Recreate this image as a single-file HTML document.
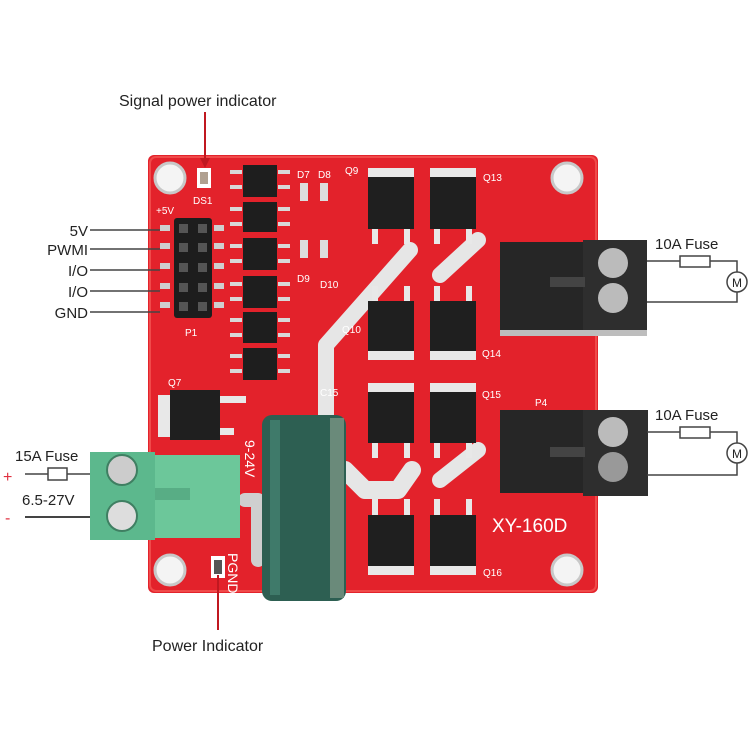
<!DOCTYPE html>
<html><head><meta charset="utf-8"><style>
html,body{margin:0;padding:0;background:#fff;width:750px;height:750px;overflow:hidden}
svg{display:block}
text{font-family:"Liberation Sans",sans-serif}
</style></head><body>
<svg width="750" height="750" viewBox="0 0 750 750" xmlns="http://www.w3.org/2000/svg">
<rect width="750" height="750" fill="#fff"/>
<rect x="148" y="155" width="450" height="438" rx="6" fill="#e3222b"/>
<rect x="150" y="157" width="446" height="434" rx="6" fill="none" stroke="#f04a4a" stroke-width="2"/>
<g fill="#f4f4f4" stroke="#c8c8c8" stroke-width="3">
<circle cx="170" cy="178" r="15"/><circle cx="567" cy="178" r="15"/>
<circle cx="170" cy="570" r="15"/><circle cx="567" cy="570" r="15"/>
</g>
<g fill="none" stroke="#e6e6e6" stroke-linecap="round" stroke-linejoin="round">
<polyline points="326,588 326,345 410,250" stroke-width="16"/>
<polyline points="440,275 478,240" stroke-width="16"/>
<polyline points="345,470 365,490 398,490 412,470" stroke-width="18"/>
<polyline points="440,480 478,450" stroke-width="16"/>
<polyline points="245,500 258,500 258,560" stroke-width="14" stroke="#cfcfcf"/>
</g>
<rect x="174" y="218" width="38" height="100" rx="3" fill="#1d1d1d"/>
<g fill="#cfcfcf">
<rect x="160" y="225" width="10" height="6"/><rect x="160" y="243" width="10" height="6"/><rect x="160" y="263" width="10" height="6"/><rect x="160" y="283" width="10" height="6"/><rect x="160" y="302" width="10" height="6"/>
<rect x="214" y="225" width="10" height="6"/><rect x="214" y="243" width="10" height="6"/><rect x="214" y="263" width="10" height="6"/><rect x="214" y="283" width="10" height="6"/><rect x="214" y="302" width="10" height="6"/>
</g>
<g fill="#555">
<rect x="179" y="224" width="9" height="9"/><rect x="198" y="224" width="9" height="9"/>
<rect x="179" y="243" width="9" height="9"/><rect x="198" y="243" width="9" height="9"/>
<rect x="179" y="263" width="9" height="9"/><rect x="198" y="263" width="9" height="9"/>
<rect x="179" y="283" width="9" height="9"/><rect x="198" y="283" width="9" height="9"/>
<rect x="179" y="302" width="9" height="9"/><rect x="198" y="302" width="9" height="9"/>
</g>
<text x="156" y="214" font-size="10" fill="#fff">+5V</text>
<text x="185" y="336" font-size="10" fill="#fff">P1</text>
<rect x="197" y="168" width="14" height="20" fill="#fff"/><rect x="200" y="172" width="8" height="12" fill="#b0a090"/>
<text x="193" y="204" font-size="10" fill="#fff">DS1</text>
<g fill="#1e1e1e">
<rect x="243" y="165" width="34" height="32"/><rect x="243" y="202" width="34" height="30"/><rect x="243" y="238" width="34" height="32"/><rect x="243" y="276" width="34" height="32"/><rect x="243" y="312" width="34" height="31"/><rect x="243" y="348" width="34" height="32"/>
</g>
<g fill="#d8d8d8">
<rect x="230" y="170" width="12" height="4"/><rect x="230" y="185" width="12" height="4"/><rect x="278" y="170" width="12" height="4"/><rect x="278" y="185" width="12" height="4"/>
<rect x="230" y="207" width="12" height="4"/><rect x="230" y="222" width="12" height="4"/><rect x="278" y="207" width="12" height="4"/><rect x="278" y="222" width="12" height="4"/>
<rect x="230" y="244" width="12" height="4"/><rect x="230" y="259" width="12" height="4"/><rect x="278" y="244" width="12" height="4"/><rect x="278" y="259" width="12" height="4"/>
<rect x="230" y="282" width="12" height="4"/><rect x="230" y="297" width="12" height="4"/><rect x="278" y="282" width="12" height="4"/><rect x="278" y="297" width="12" height="4"/>
<rect x="230" y="318" width="12" height="4"/><rect x="230" y="333" width="12" height="4"/><rect x="278" y="318" width="12" height="4"/><rect x="278" y="333" width="12" height="4"/>
<rect x="230" y="354" width="12" height="4"/><rect x="230" y="369" width="12" height="4"/><rect x="278" y="354" width="12" height="4"/><rect x="278" y="369" width="12" height="4"/>
</g>
<g fill="#ddd"><rect x="300" y="183" width="8" height="18"/><rect x="320" y="183" width="8" height="18"/><rect x="300" y="240" width="8" height="18"/><rect x="320" y="240" width="8" height="18"/></g>
<g font-size="10" fill="#fff"><text x="297" y="178">D7</text><text x="318" y="178">D8</text><text x="297" y="282">D9</text><text x="320" y="288">D10</text><text x="345" y="174">Q9</text><text x="483" y="181">Q13</text><text x="342" y="333">Q10</text><text x="482" y="357">Q14</text><text x="482" y="398">Q15</text><text x="483" y="576">Q16</text><text x="320" y="396">C15</text><text x="168" y="386">Q7</text><text x="535" y="406">P4</text></g>
<g fill="#e8e8e8">
<rect x="368" y="168" width="46" height="10"/><rect x="430" y="168" width="46" height="10"/>
<rect x="368" y="350" width="46" height="10"/><rect x="430" y="350" width="46" height="10"/>
<rect x="368" y="383" width="46" height="10"/><rect x="430" y="383" width="46" height="10"/>
<rect x="368" y="565" width="46" height="10"/><rect x="430" y="565" width="46" height="10"/>
<rect x="372" y="228" width="6" height="16"/><rect x="404" y="228" width="6" height="16"/><rect x="434" y="228" width="6" height="16"/><rect x="466" y="228" width="6" height="16"/>
<rect x="372" y="286" width="6" height="16"/><rect x="404" y="286" width="6" height="16"/><rect x="434" y="286" width="6" height="16"/><rect x="466" y="286" width="6" height="16"/>
<rect x="372" y="442" width="6" height="16"/><rect x="404" y="442" width="6" height="16"/><rect x="434" y="442" width="6" height="16"/><rect x="466" y="442" width="6" height="16"/>
<rect x="372" y="499" width="6" height="16"/><rect x="404" y="499" width="6" height="16"/><rect x="434" y="499" width="6" height="16"/><rect x="466" y="499" width="6" height="16"/>
</g>
<g fill="#1f1f1f">
<rect x="368" y="177" width="46" height="52"/><rect x="430" y="177" width="46" height="52"/>
<rect x="368" y="301" width="46" height="50"/><rect x="430" y="301" width="46" height="50"/>
<rect x="368" y="392" width="46" height="51"/><rect x="430" y="392" width="46" height="51"/>
<rect x="368" y="515" width="46" height="51"/><rect x="430" y="515" width="46" height="51"/>
</g>
<rect x="158" y="395" width="12" height="42" fill="#e8e8e8"/>
<rect x="170" y="390" width="50" height="50" fill="#1f1f1f"/>
<rect x="220" y="396" width="26" height="7" fill="#e8e8e8"/><rect x="220" y="428" width="14" height="7" fill="#e8e8e8"/>
<rect x="262" y="415" width="84" height="186" rx="10" fill="#2d5f52"/>
<rect x="270" y="420" width="10" height="175" fill="#3f7a6a"/>
<rect x="330" y="418" width="14" height="180" fill="#6a8a7a"/>
<text x="245" y="440" font-size="14" fill="#fff" transform="rotate(90 245 440)">9-24V</text>
<text x="228" y="553" font-size="14" fill="#fff" transform="rotate(90 228 553)">PGND</text>
<rect x="211" y="556" width="14" height="22" fill="#fff"/><rect x="214" y="560" width="8" height="14" fill="#555"/>
<text x="492" y="532" font-size="19" fill="#fff">XY-160D</text>
<rect x="90" y="452" width="65" height="88" fill="#5cb88d"/>
<rect x="155" y="455" width="85" height="83" fill="#6cc79a"/>
<rect x="155" y="488" width="35" height="12" fill="#58ad85"/>
<circle cx="122" cy="470" r="15" fill="#ccc" stroke="#3f7f62" stroke-width="2"/>
<circle cx="122" cy="516" r="15" fill="#ddd" stroke="#3f7f62" stroke-width="2"/>
<rect x="500" y="242" width="85" height="90" fill="#262626"/>
<rect x="583" y="240" width="64" height="90" fill="#2e2e2e"/>
<rect x="500" y="330" width="147" height="6" fill="#bdbdbd"/>
<rect x="550" y="277" width="35" height="10" fill="#444"/>
<circle cx="613" cy="263" r="15" fill="#bbb"/><circle cx="613" cy="298" r="15" fill="#bbb"/>
<rect x="500" y="410" width="85" height="83" fill="#262626"/>
<rect x="583" y="410" width="65" height="86" fill="#2e2e2e"/>
<rect x="550" y="447" width="35" height="10" fill="#444"/>
<circle cx="613" cy="432" r="15" fill="#bbb"/><circle cx="613" cy="467" r="15" fill="#999"/>
<g fill="none" stroke="#444" stroke-width="1.5">
<polyline points="647,261 680,261"/><rect x="680" y="256" width="30" height="11" fill="#fff"/><polyline points="710,261 737,261 737,272"/><circle cx="737" cy="282" r="10" fill="#fff"/><polyline points="737,292 737,302 647,302"/>
<polyline points="647,432 680,432"/><rect x="680" y="427" width="30" height="11" fill="#fff"/><polyline points="710,432 737,432 737,443"/><circle cx="737" cy="453" r="10" fill="#fff"/><polyline points="737,463 737,475 647,475"/>
<polyline points="25,474 48,474"/><rect x="48" y="468" width="19" height="12" fill="#fff"/><polyline points="67,474 90,474"/>
<polyline points="25,517 90,517" stroke-width="2"/>
<polyline points="90,230 160,230"/><polyline points="90,249 160,249"/><polyline points="90,270 160,270"/><polyline points="90,291 160,291"/><polyline points="90,312 160,312"/>
</g>
<g font-size="15" fill="#222">
<text x="655" y="249">10A Fuse</text><text x="655" y="420">10A Fuse</text>
<text x="737" y="287" font-size="12" text-anchor="middle">M</text><text x="737" y="458" font-size="12" text-anchor="middle">M</text>
<text x="15" y="461">15A Fuse</text><text x="22" y="505">6.5-27V</text>
<text x="88" y="236" text-anchor="end">5V</text><text x="88" y="255" text-anchor="end">PWMI</text><text x="88" y="276" text-anchor="end">I/O</text><text x="88" y="297" text-anchor="end">I/O</text><text x="88" y="318" text-anchor="end">GND</text>
<text x="119" y="106" font-size="16">Signal power indicator</text>
<text x="152" y="651" font-size="16">Power Indicator</text>
</g>
<text x="3" y="482" font-size="16" fill="#e03040">+</text>
<text x="5" y="523" font-size="16" fill="#e03040">-</text>
<line x1="205" y1="112" x2="205" y2="160" stroke="#c01820" stroke-width="2"/>
<polygon points="200,158 210,158 205,168" fill="#c01820"/>
<line x1="218" y1="575" x2="218" y2="630" stroke="#c01820" stroke-width="2"/>
</svg>
</body></html>
